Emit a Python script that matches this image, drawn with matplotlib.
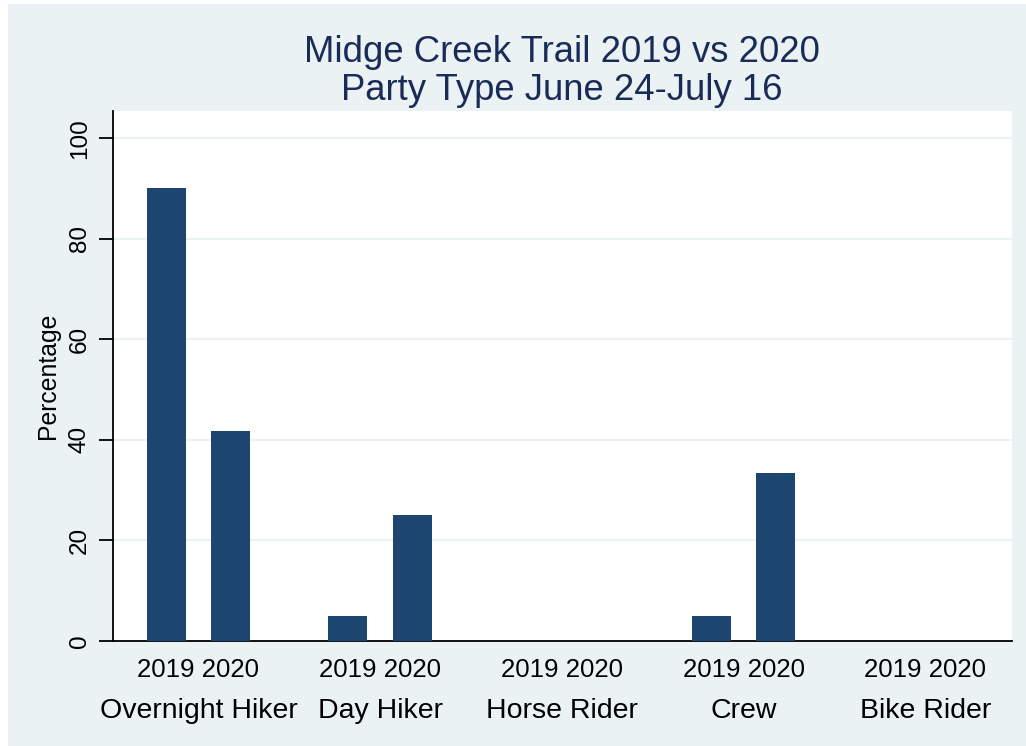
import numpy as np
import matplotlib.pyplot as plt
import matplotlib.transforms as mtransforms
from matplotlib.patches import Rectangle

# party type shares (%) by year
categories = ["Overnight Hiker", "Day Hiker", "Horse Rider", "Crew", "Bike Rider"]
pct_2019 = [90, 5, 0, 5, 0]
pct_2020 = [41.67, 25, 0, 33.33, 0]
year_labels = ["2019 2020"] * len(categories)
yticks = [0, 20, 40, 60, 80, 100]

navy = "#1c4670"
panel = "#eaf2f3"
title_col = "#1a2b57"

plt.rcParams["font.family"] = ["Liberation Sans", "DejaVu Sans"]

fig = plt.figure(figsize=(10.26, 7.46), dpi=100)
fig.patch.set_facecolor("white")
fig.patches.append(Rectangle((0.0078, 0), 0.9922, 0.9946, transform=fig.transFigure,
                             facecolor=panel, edgecolor="none", zorder=-1))

ax = fig.add_axes([0.1101, 0.1408, 0.8763, 0.7104])
ax.set_facecolor("white")

x = np.arange(len(categories))
off = 0.1775
w = 0.215
ax.bar(x - off, pct_2019, width=w, color=navy, zorder=3)
ax.bar(x + off, pct_2020, width=w, color=navy, zorder=3)

ax.set_xlim(-0.47, 4.477)
ax.set_ylim(0, 105.4)
ax.set_yticks(yticks)
ax.set_yticklabels([str(t) for t in yticks], rotation=90, va="center", fontsize=17.5)
ax.grid(axis="y", color=panel, linewidth=1.5, zorder=0)
ax.tick_params(axis="y", length=10, width=1.3, pad=6)

ax.set_xticks(x)
ax.set_xticklabels(year_labels, fontsize=18.6)
ax.tick_params(axis="x", length=0, pad=12)

trans = mtransforms.blended_transform_factory(ax.transData, fig.transFigure)
for xi, name in zip(x, categories):
    ax.text(xi, 1 - 711 / 746, name, transform=trans, ha="center", va="center", fontsize=20.5)

for s in ["top", "right"]:
    ax.spines[s].set_visible(False)
ax.spines["left"].set_linewidth(1.3)
ax.spines["bottom"].set_linewidth(1.3)

ax.set_ylabel("Percentage", fontsize=17.8, labelpad=6)

fig.text(0.548, 1 - 52 / 746, "Midge Creek Trail 2019 vs 2020", ha="center", va="center",
         fontsize=26.3, color=title_col)
fig.text(0.548, 1 - 90 / 746, "Party Type June 24-July 16", ha="center", va="center",
         fontsize=26.3, color=title_col)

fig.savefig("out.png", dpi=100, facecolor=fig.get_facecolor())
